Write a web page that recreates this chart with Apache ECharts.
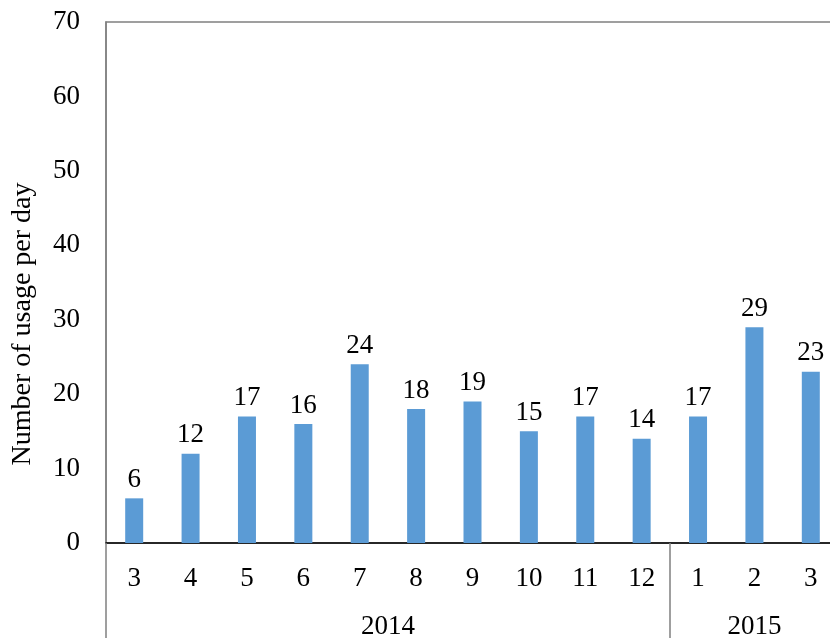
<!DOCTYPE html>
<html>
<head>
<meta charset="utf-8">
<script src="https://cdn.jsdelivr.net/npm/echarts@6/dist/echarts.min.js"></script>
<style>
  html, body { margin: 0; padding: 0; background: #fff; }
  #chart { width: 830px; height: 638px; }
</style>
</head>
<body>
<div id="chart"></div>
<script>
// months and usage values
var months = ['3', '4', '5', '6', '7', '8', '9', '10', '11', '12', '1', '2', '3'];
var usage = [6, 12, 17, 16, 24, 18, 19, 15, 17, 14, 17, 29, 23];
// year groups: label and how many months belong to it
var years = ['2014', '2015'];
var yearCounts = [10, 3];
var yTicks = [0, 10, 20, 30, 40, 50, 60, 70];

var font = 'Liberation Serif';
var fs = 27;

// boundaries (category index) where a new year starts
var yearStarts = [];
var yearCenters = {};
var acc = 0;
years.forEach(function (y, i) {
    yearStarts.push(acc);
    yearCenters[(acc + yearCounts[i] / 2).toFixed(1)] = y;
    acc += yearCounts[i];
});

var chart = echarts.init(document.getElementById('chart'));
chart.setOption({
    animation: false,
    grid: {
        left: 106,
        top: 22,
        width: 733,
        height: 521,
        outerBoundsMode: 'none',
        containLabel: false,
        show: true,
        borderColor: '#808080',
        borderWidth: 1.5
    },
    xAxis: [
        {
            type: 'category',
            data: months,
            position: 'bottom',
            axisLine: { lineStyle: { color: '#000', width: 1.5 } },
            axisTick: {
                show: true,
                length: 95,
                interval: function (index) {
                    return yearStarts.indexOf(index) >= 0;
                },
                lineStyle: { color: '#808080', width: 1.5 }
            },
            axisLabel: {
                margin: 22,
                fontFamily: font,
                fontSize: fs,
                color: '#000'
            }
        },
        {
            type: 'value',
            min: 0,
            max: acc,
            interval: 0.5,
            position: 'bottom',
            axisLine: { show: false },
            axisTick: { show: false },
            splitLine: { show: false },
            axisLabel: {
                margin: 70,
                fontFamily: font,
                fontSize: fs,
                color: '#000',
                showMinLabel: false,
                showMaxLabel: false,
                formatter: function (v) {
                    return yearCenters[v.toFixed(1)] || '';
                }
            }
        }
    ],
    yAxis: {
        type: 'value',
        min: yTicks[0],
        max: yTicks[yTicks.length - 1],
        interval: 10,
        axisLine: { show: true, lineStyle: { color: '#808080', width: 1.5 } },
        axisTick: { show: false },
        splitLine: { show: false },
        axisLabel: {
            margin: 26,
            fontFamily: font,
            fontSize: fs,
            color: '#000'
        }
    },
    graphic: [{
        type: 'text',
        x: 23,
        y: 324,
        rotation: Math.PI / 2,
        style: {
            text: 'Number of usage per day',
            fontFamily: font,
            fontSize: 28,
            fill: '#000',
            align: 'center',
            verticalAlign: 'middle'
        }
    }],
    series: [{
        type: 'bar',
        xAxisIndex: 0,
        data: usage,
        barWidth: 18,
        itemStyle: { color: '#5B9BD5' },
        label: {
            show: true,
            position: 'top',
            distance: 5,
            fontFamily: font,
            fontSize: fs,
            color: '#000'
        }
    }]
});
</script>
</body>
</html>
